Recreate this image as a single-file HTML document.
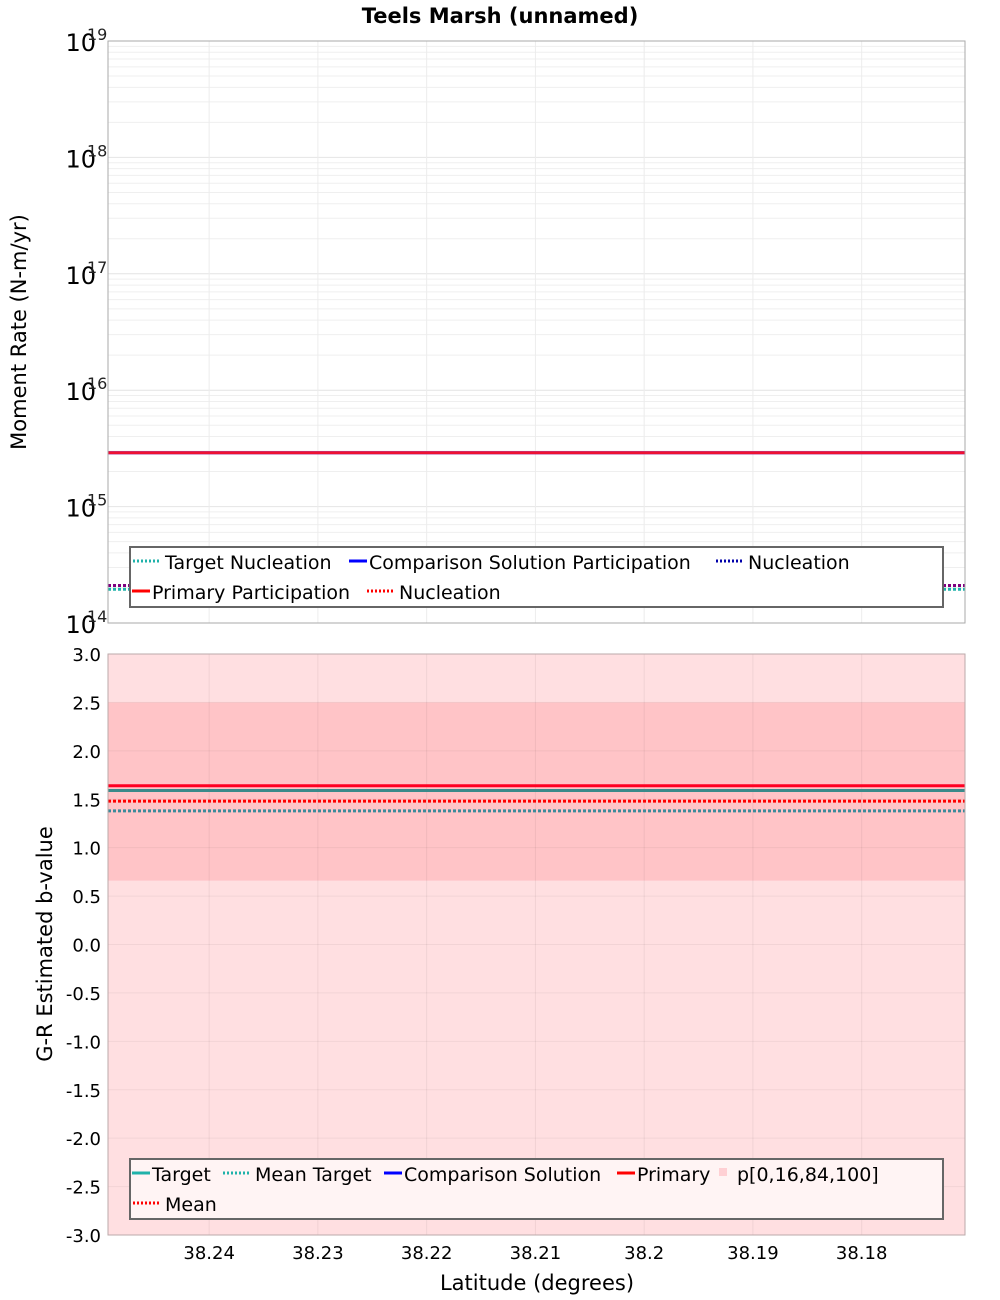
<!DOCTYPE html>
<html><head><meta charset="utf-8"><style>
body{margin:0;background:#fff}
svg{display:block;font-family:"DejaVu Sans","Liberation Sans",sans-serif}
</style></head><body>
<svg id="c" width="1000" height="1300">
<text x="500" y="23" text-anchor="middle" font-size="21" font-weight="bold">Teels Marsh (unnamed)</text>
<g id="topPanel"></g>
<g id="botPanel"></g>
<text transform="translate(26,332) rotate(-90)" text-anchor="middle" font-size="21">Moment Rate (N-m/yr)</text>
<text transform="translate(52,944) rotate(-90)" text-anchor="middle" font-size="21">G-R Estimated b-value</text>
<text x="537" y="1290" text-anchor="middle" font-size="21">Latitude (degrees)</text>
</svg>
<script>
const latRange=[38.2493,38.1705];
const latTicks=[38.24,38.23,38.22,38.21,38.2,38.19,38.18];
const latTickLabels=["38.24","38.23","38.22","38.21","38.2","38.19","38.18"];
const momentDecades=[14,15,16,17,18,19];
const primaryParticipation=[2.9e15,2.9e15];
const comparisonParticipation=[2.9e15,2.9e15];
const primaryNucleation=[2.1e14,2.1e14];
const targetNucleation=[1.95e14,1.95e14];
const comparisonNucleation=[2.1e14,2.1e14];
const bTicks=[3,2.5,2,1.5,1,0.5,0,-0.5,-1,-1.5,-2,-2.5,-3];
const bTickLabels=["3.0","2.5","2.0","1.5","1.0","0.5","0.0","-0.5","-1.0","-1.5","-2.0","-2.5","-3.0"];
const bOuterBand=[-3,3];
const bInnerBand=[0.66,2.5];
const bPrimary=[1.64,1.64];
const bTarget=[1.59,1.59];
const bMean=[1.48,1.48];
const bMeanTarget=[1.38,1.38];

const NS="http://www.w3.org/2000/svg";
const L=108,R=965,T1=41,B1=623,T2=654,B2=1235;
const xs=v=>L+(v-latRange[0])/(latRange[1]-latRange[0])*(R-L);
const ys1=v=>B1-(Math.log10(v)-14)/5*(B1-T1);
const ys2=v=>B2-(v+3)/6*(B2-T2);
function mk(p,t,a){const e=document.createElementNS(NS,t);for(const k in a)e.setAttribute(k,a[k]);p.appendChild(e);return e;}
const topG=document.getElementById('topPanel'),botG=document.getElementById('botPanel');

for(let d=14;d<19;d++)for(let k=1;k<10;k++){const y=ys1(k*Math.pow(10,d));
 const g=mk(topG,'line',{x1:L,x2:R,y1:y,y2:y,stroke:k==1?'#e4e4e4':'#efefef','stroke-width':1});
 
 }
latTicks.forEach(v=>{const x=xs(v);
 const g=mk(topG,'line',{x1:x,x2:x,y1:T1,y2:B1,stroke:'#ececec'});
 
 });
momentDecades.forEach(d=>{const y=ys1(Math.pow(10,d));
 const t=mk(topG,'text',{x:96,y:y+10,'text-anchor':'end','font-size':24});t.textContent='10';
 
 
 const s=mk(topG,'text',{x:87,y:y-1,'font-size':16,fill:'#222'});s.textContent=String(d);
 
 });
function hline(p,arr,ys,col,w,dash,name){
 const e=mk(p,'line',{x1:xs(latRange[0]),x2:xs(latRange[1]),y1:ys(arr[0]),y2:ys(arr[1]),stroke:col,'stroke-width':w});
 if(dash)e.setAttribute('stroke-dasharray',dash);
 
 }
hline(topG,targetNucleation,ys1,'#20b2aa',3,'3,2','target-nucleation-line');
hline(topG,primaryNucleation,ys1,'#ffb6c1',3,'3,2','primary-nucleation-line');
hline(topG,comparisonNucleation,ys1,'#800080',3,'3,2','comparison-nucleation-line');
hline(topG,comparisonParticipation,ys1,'#0000ff',3,null,'comparison-participation-line');
hline(topG,primaryParticipation,ys1,'#ee1133',3,null,'primary-participation-line');
{const f=mk(topG,'rect',{x:L,y:T1,width:R-L,height:B1-T1,fill:'none',stroke:'#aaa'});
 
 }

{const r=mk(botG,'rect',{x:L,y:ys2(bOuterBand[1]),width:R-L,height:ys2(bOuterBand[0])-ys2(bOuterBand[1]),fill:'#ffdfe1'});
 
 
 const r2=mk(botG,'rect',{x:L,y:ys2(bInnerBand[1]),width:R-L,height:ys2(bInnerBand[0])-ys2(bInnerBand[1]),fill:'#ffc4c7'});
 
 }
bTicks.forEach((v,i)=>{const y=ys2(v);
 const g=mk(botG,'line',{x1:L,x2:R,y1:y,y2:y,stroke:'rgba(0,0,0,0.05)'});
 
 
 const t=mk(botG,'text',{x:101,y:y+7,'text-anchor':'end','font-size':18});t.textContent=bTickLabels[i];
 
 });
latTicks.forEach((v,i)=>{const x=xs(v);
 const g=mk(botG,'line',{x1:x,x2:x,y1:T2,y2:B2,stroke:'rgba(0,0,0,0.06)'});
 
 
 const t=mk(botG,'text',{x:x,y:1259,'text-anchor':'middle','font-size':18});t.textContent=latTickLabels[i];
 
 });
hline(botG,bMeanTarget,ys2,'#3a8a9a',3,'3,2','mean-target-line');
hline(botG,bMean,ys2,'#ff0000',3,'3,2','mean-line');
hline(botG,bTarget,ys2,'#3a8a8a',3,null,'target-line');
hline(botG,bPrimary,ys2,'#ff0022',3,null,'primary-line');
{const f=mk(botG,'rect',{x:L,y:T2,width:R-L,height:B2-T2,fill:'none',stroke:'#bbaaaa'});
 
 }

function legend(p,x,y,w,h,bg,rows,name){
 const b=mk(p,'rect',{x:x,y:y,width:w,height:h,fill:bg,stroke:'#666','stroke-width':2});
 
 
 rows.forEach(r=>{
  let sw;
  if(r.sq){sw=mk(p,'rect',{x:r.x+2,y:r.y-13,width:8,height:8,fill:r.col});}
  else{sw=mk(p,'line',{x1:r.x,x2:r.x+(r.dash?28:18),y1:r.y-8,y2:r.y-8,stroke:r.col,'stroke-width':3});
   if(r.dash)sw.setAttribute('stroke-dasharray','2,2');}
  
  
  const t=mk(p,'text',{x:r.x+(r.dash?32:20),y:r.y,'font-size':19});t.textContent=r.t;
  
  });}
legend(topG,130,547,813,60,'#fff',[
 {x:133,y:569,col:'#20b2aa',dash:1,t:'Target Nucleation'},
 {x:349,y:569,col:'#0000ff',t:'Comparison Solution Participation'},
 {x:716,y:569,col:'#0000aa',dash:1,t:'Nucleation'},
 {x:132,y:599,col:'#ff0000',t:'Primary Participation'},
 {x:367,y:599,col:'#ff0000',dash:1,t:'Nucleation'}],'top-legend');
legend(botG,130,1159,813,60,'#fff4f4',[
 {x:132,y:1181,col:'#20b2aa',t:'Target'},
 {x:223,y:1181,col:'#20b2aa',dash:1,t:'Mean Target'},
 {x:384,y:1181,col:'#0000ff',t:'Comparison Solution'},
 {x:617,y:1181,col:'#ff0000',t:'Primary'},
 {x:717,y:1181,col:'#ffd0d4',sq:1,t:'p[0,16,84,100]'},
 {x:133,y:1211,col:'#ff0000',dash:1,t:'Mean'}],'bottom-legend');
</script>
</body></html>
